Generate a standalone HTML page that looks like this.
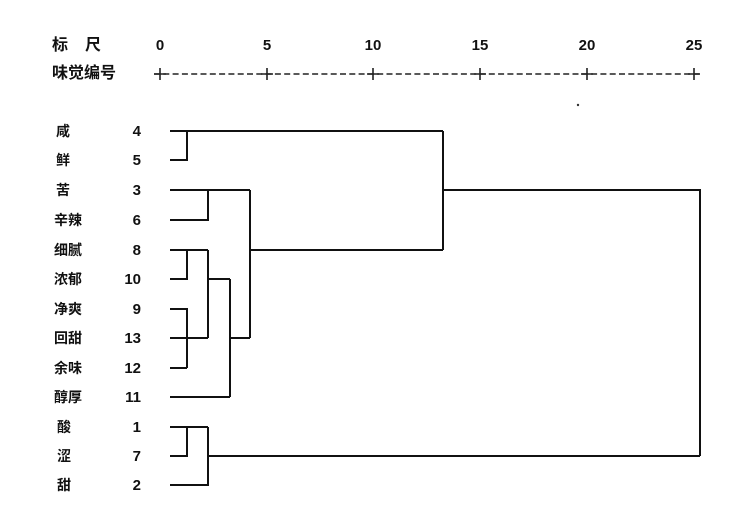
<!DOCTYPE html>
<html><head><meta charset="utf-8"><style>
body{margin:0;background:#fff;}
svg{display:block;}
text{font-family:"Liberation Sans","Noto Sans CJK SC",sans-serif;fill:#111;}
</style></head><body>
<svg width="743" height="526" viewBox="0 0 743 526" xmlns="http://www.w3.org/2000/svg">
<g font-size="16" font-weight="bold">
<text x="52" y="50">标</text><text x="85" y="50">尺</text>
<text x="52" y="78">味觉编号</text>
</g>
<g font-size="15" text-anchor="middle" font-weight="bold">
<text x="160" y="50">0</text><text x="267" y="50">5</text><text x="373" y="50">10</text>
<text x="480" y="50">15</text><text x="587" y="50">20</text><text x="694" y="50">25</text>
</g>
<g stroke="#222" stroke-width="1.6">
<line x1="154" y1="74" x2="700" y2="74" stroke-dasharray="6 3.3"/>
<path d="M160 68V80M267 68V80M373 68V80M480 68V80M587 68V80M694 68V80M154 74H166M261 74H273M367 74H379M474 74H486M581 74H593M688 74H700"/>
</g>
<circle cx="578" cy="105" r="1.2" fill="#333"/>
<g font-size="14" font-weight="bold">
<text x="56" y="136">咸</text><text x="56" y="165">鲜</text><text x="56" y="195">苦</text>
<text x="54" y="225">辛辣</text><text x="54" y="255">细腻</text><text x="54" y="284">浓郁</text>
<text x="54" y="314">净爽</text><text x="54" y="343">回甜</text><text x="54" y="373">余味</text>
<text x="54" y="402">醇厚</text><text x="57" y="432">酸</text><text x="57" y="461">涩</text><text x="57" y="490">甜</text>
</g>
<g font-size="15" text-anchor="end" font-weight="bold">
<text x="141" y="136">4</text><text x="141" y="165">5</text><text x="141" y="195">3</text>
<text x="141" y="225">6</text><text x="141" y="255">8</text><text x="141" y="284">10</text>
<text x="141" y="314">9</text><text x="141" y="343">13</text><text x="141" y="373">12</text>
<text x="141" y="402">11</text><text x="141" y="432">1</text><text x="141" y="461">7</text><text x="141" y="490">2</text>
</g>
<g stroke="#111" stroke-width="2" fill="none">
<path d="M170 131H443M170 160H187V131"/>
<path d="M170 190H250M170 220H208V190"/>
<path d="M170 250H208M170 279H187V250"/>
<path d="M170 309H187V368M170 338H208M170 368H187"/>
<path d="M208 250V338M208 279H230M230 279V397M170 397H230M230 338H250M250 190V338M250 250H443"/>
<path d="M443 131V250M443 190H700V456"/>
<path d="M170 427H208M170 456H187V427M170 485H208V427M208 456H700"/>
</g>
</svg>
</body></html>
